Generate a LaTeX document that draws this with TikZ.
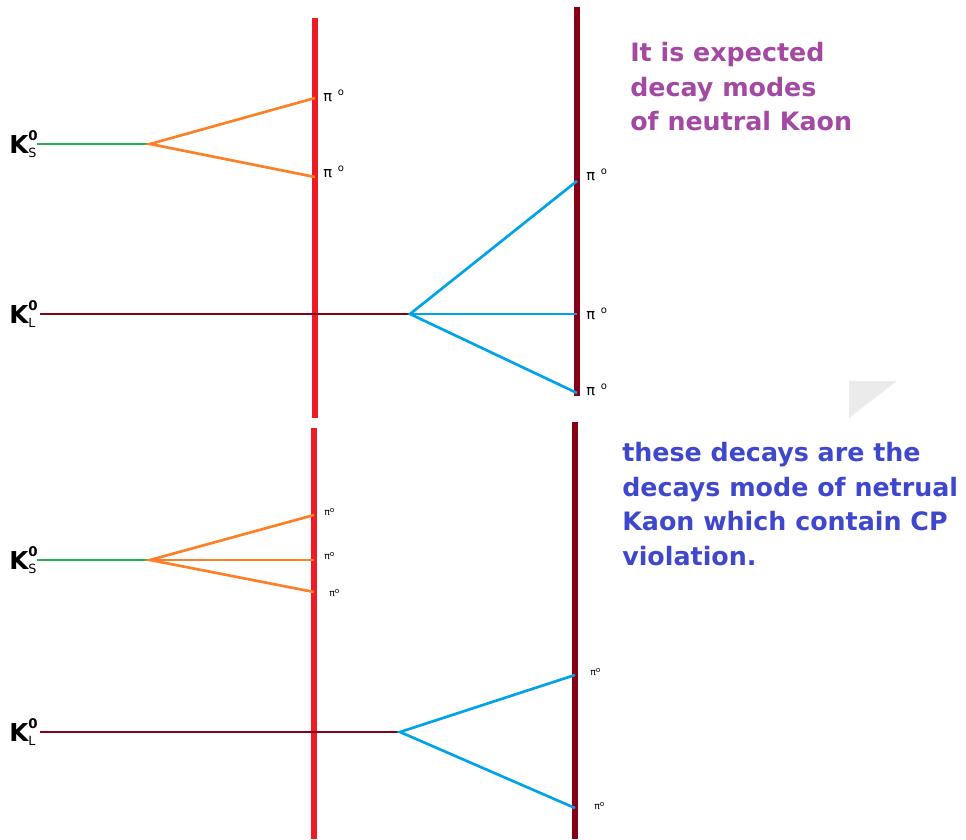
\documentclass[tikz,border=0pt]{standalone}
\usepackage{fontspec}
\setmainfont{DejaVu Sans}
\definecolor{kred}{HTML}{ED1C24}
\definecolor{kmaroon}{HTML}{880015}
\definecolor{kgreen}{HTML}{22B14C}
\definecolor{korange}{HTML}{FF7F27}
\definecolor{kblue}{HTML}{00A2E8}
\definecolor{kpurple}{HTML}{A349A4}
\definecolor{ktext}{HTML}{3F48CC}
\newcommand{\kaonlabel}[1]{\fontsize{18.5}{18.5}\selectfont\bfseries K\rlap{\raisebox{1.0ex}{\fontsize{10}{10}\selectfont 0}}\raisebox{-0.3ex}{\fontsize{9.5}{9.5}\selectfont\mdseries #1}}
\newcommand{\pibig}{\fontsize{11}{11}\selectfont π\hspace{0.4em}\raisebox{0.7ex}{\fontsize{7.5}{7.5}\selectfont o}}
\newcommand{\pismall}{\fontsize{7}{7}\selectfont π\raisebox{0.6ex}{\fontsize{5.5}{5.5}\selectfont o}}
\begin{document}
\begin{tikzpicture}[x=0.75pt,y=-0.75pt,
  wall/.style={line width=5pt},
  track/.style={line width=2pt},
  ktag/.style={inner sep=0pt, anchor=west},
  pitag/.style={inner sep=0pt, anchor=west},
  note/.style={inner sep=0pt, anchor=north west, align=left, font=\fontsize{19}{26}\selectfont\bfseries}]
\useasboundingbox (0,0) rectangle (966,839);
% detector walls
\coordinate (r1t) at (315,18);  \coordinate (r1b) at (315,418);
\coordinate (r2t) at (314,428); \coordinate (r2b) at (314,839);
\coordinate (m1t) at (577,7);   \coordinate (m1b) at (577,396);
\coordinate (m2t) at (575,422); \coordinate (m2b) at (575,839);
\draw[wall, kred] (r1t) -- (r1b);
\draw[wall, kred] (r2t) -- (r2b);
\draw[wall, kmaroon] (m1t) -- (m1b);
\draw[wall, kmaroon] (m2t) -- (m2b);
% gray corner artefact
\fill[black!8] (849,381) -- (897,381) -- (849,418) -- cycle;
% upper K_S
\node[ktag] (ks1) at (9,144) {\kaonlabel{S}};
\coordinate (ks1s) at (37,144);
\coordinate (ks1v) at (150,144);
\coordinate (ks1a) at (315,98);
\coordinate (ks1b) at (315,177);
\draw[track, kgreen] (ks1s) -- (ks1v);
\draw[track, korange] (ks1a) -- (ks1v) -- (ks1b);
\node[pitag] (p1) at (323,96) {\pibig};
\node[pitag] (p2) at (323,172) {\pibig};
% upper K_L
\node[ktag] (kl1) at (9,314) {\kaonlabel{L}};
\coordinate (kl1s) at (40,314);
\coordinate (kl1v) at (410,314);
\coordinate (kl1a) at (577,181);
\coordinate (kl1b) at (577,314);
\coordinate (kl1c) at (577,393);
\draw[track, kmaroon] (kl1s) -- (kl1v);
\draw[track, kblue] (kl1a) -- (kl1v) -- (kl1c);
\draw[track, kblue] (kl1v) -- (kl1b);
\node[pitag] (p3) at (586,175) {\pibig};
\node[pitag] (p4) at (586,314) {\pibig};
\node[pitag] (p5) at (586,390) {\pibig};
% lower K_S
\node[ktag] (ks2) at (9,560) {\kaonlabel{S}};
\coordinate (ks2s) at (37,560);
\coordinate (ks2v) at (150,560);
\coordinate (ks2a) at (314,515);
\coordinate (ks2b) at (314,560);
\coordinate (ks2c) at (314,592);
\draw[track, kgreen] (ks2s) -- (ks2v);
\draw[track, korange] (ks2a) -- (ks2v) -- (ks2c);
\draw[track, korange] (ks2v) -- (ks2b);
\node[pitag] (p6) at (324,512) {\pismall};
\node[pitag] (p7) at (324,556) {\pismall};
\node[pitag] (p8) at (329,593) {\pismall};
% lower K_L
\node[ktag] (kl2) at (9,732) {\kaonlabel{L}};
\coordinate (kl2s) at (40,732);
\coordinate (kl2v) at (400,732);
\coordinate (kl2a) at (575,675);
\coordinate (kl2b) at (575,808);
\draw[track, kmaroon] (kl2s) -- (kl2v);
\draw[track, kblue] (kl2a) -- (kl2v) -- (kl2b);
\node[pitag] (p9) at (590,672) {\pismall};
\node[pitag] (p10) at (594,806) {\pismall};
% notes
\node[note, text=kpurple] (n1) at (630,42) {It is expected\\decay modes\\of neutral Kaon};
\node[note, text=ktext] (n2) at (622,442) {these decays are the\\decays mode of netrual\\Kaon which contain CP\\violation.};
\end{tikzpicture}
\end{document}
